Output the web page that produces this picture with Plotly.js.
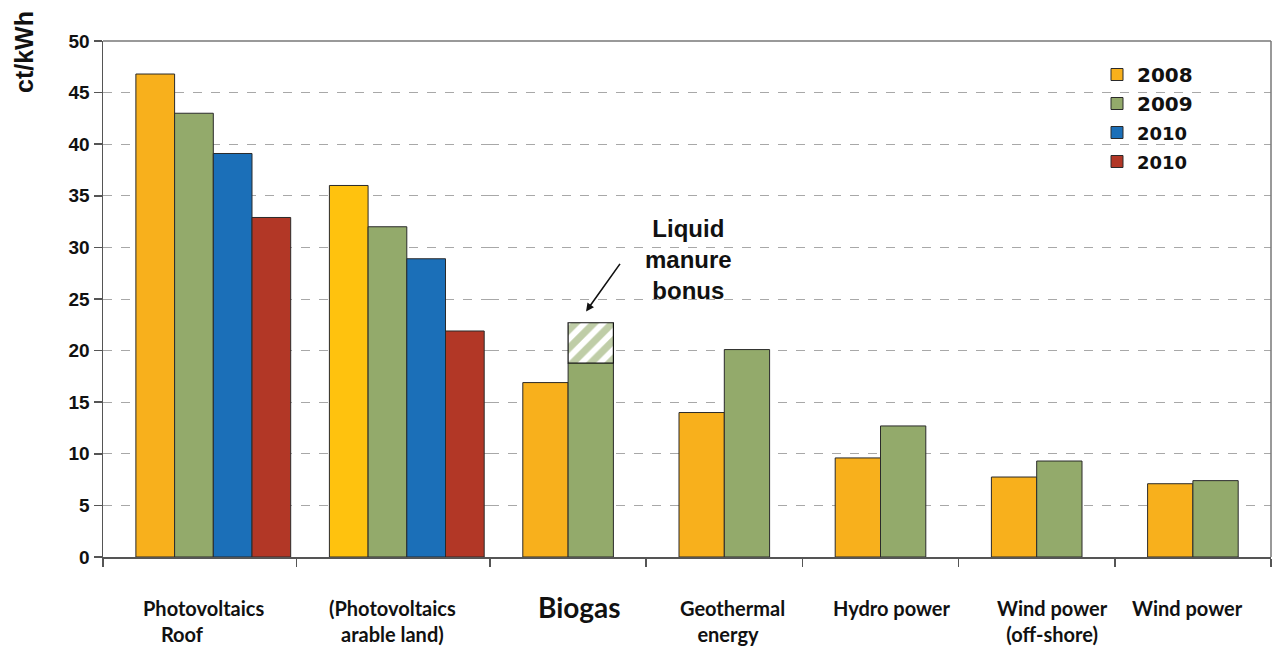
<!DOCTYPE html>
<html>
<head>
<meta charset="utf-8">
<script src="https://cdn.plot.ly/plotly-3.0.1.min.js"></script>
<style>html,body{margin:0;padding:0;background:#fff;}#chart{width:1273px;height:652px;}</style>
</head>
<body>
<div id="chart"></div>
<script>
// ---- data ----
const categoriesPV = ['Photovoltaics Roof', '(Photovoltaics arable land)'];
const categoriesOther = ['Biogas', 'Geothermal energy', 'Hydro power', 'Wind power (off-shore)', 'Wind power'];
const pv2008 = [46.8, 36.0];
const pv2009 = [43.0, 32.0];
const pv2010a = [39.1, 28.9];
const pv2010b = [32.9, 21.9];
const other2008 = [16.9, 14.0, 9.6, 7.75, 7.1];
const other2009 = [18.8, 20.1, 12.7, 9.3, 7.4];
const bonusCategory = ['Biogas'];
const manureBonus = [3.9];
const seriesNames = ['2008', '2009', '2010', '2010'];
const yTicks = [0, 5, 10, 15, 20, 25, 30, 35, 40, 45, 50];
const labelTexts = {
  'Photovoltaics Roof': 'Photovoltaics<br>&nbsp;&nbsp;Roof&nbsp;&nbsp;&nbsp;&nbsp;&nbsp;&nbsp;&nbsp;&nbsp;&nbsp;&nbsp;&nbsp;',
  '(Photovoltaics arable land)': '(Photovoltaics<br>arable land)',
  'Biogas': 'Biogas',
  'Geothermal energy': 'Geothermal<br>energy&nbsp;&nbsp;',
  'Hydro power': 'Hydro power',
  'Wind power (off-shore)': 'Wind power<br>(off-shore)',
  'Wind power': 'Wind power'
};

// ---- styles ----
const C_ORANGE = '#F8B01C', C_YELLOW = '#FFC20E', C_GREEN = '#93AA6B', C_BLUE = '#1B6FB8', C_RED = '#B23726';
const OUTLINE = {color: '#2a2a2a', width: 1};
const W4 = 0.2, W2 = 0.29;

const traces = [
  {type: 'bar', x: categoriesPV, y: pv2008, xaxis: 'x', yaxis: 'y', name: seriesNames[0], legendgroup: 'a',
   offset: -0.33, width: W4, marker: {color: [C_ORANGE, C_YELLOW], line: OUTLINE}},
  {type: 'bar', x: categoriesPV, y: pv2009, xaxis: 'x', yaxis: 'y', name: seriesNames[1], legendgroup: 'b',
   offset: -0.13, width: W4, marker: {color: C_GREEN, line: OUTLINE}},
  {type: 'bar', x: categoriesPV, y: pv2010a, xaxis: 'x', yaxis: 'y', name: '<span style="font-size:18px">' + seriesNames[2] + '</span>', legendgroup: 'c',
   offset: 0.07, width: W4, marker: {color: C_BLUE, line: OUTLINE}},
  {type: 'bar', x: categoriesPV, y: pv2010b, xaxis: 'x', yaxis: 'y', name: '<span style="font-size:18px">' + seriesNames[3] + '</span>', legendgroup: 'd',
   offset: 0.27, width: W4, marker: {color: C_RED, line: OUTLINE}},
  {type: 'bar', x: categoriesOther, y: other2008, xaxis: 'x2', yaxis: 'y', name: seriesNames[0], legendgroup: 'a', showlegend: false,
   offset: -W2, width: W2, marker: {color: C_ORANGE, line: OUTLINE}},
  {type: 'bar', x: categoriesOther, y: other2009, xaxis: 'x2', yaxis: 'y', name: seriesNames[1], legendgroup: 'b', showlegend: false,
   offset: 0, width: W2, marker: {color: C_GREEN, line: OUTLINE}},
  {type: 'bar', x: bonusCategory, y: manureBonus, base: [other2009[0]], xaxis: 'x2', yaxis: 'y', name: 'Liquid manure bonus', showlegend: false,
   offset: 0, width: W2,
   marker: {color: '#ffffff', line: {color: '#111', width: 1.2}, pattern: {shape: '/', fgcolor: '#7F9B50', bgcolor: '#ffffff', size: 13, solidity: 0.55, fillmode: 'overlay'}}}
];

const splitFrac = (490 - 103) / 1168;
const xaxisBase = {
  type: 'category', showline: true, linecolor: '#555', linewidth: 1.5, ticks: 'outside', tickson: 'boundaries',
  ticklen: 8, tickcolor: '#555', tickwidth: 1.5, showticklabels: false, showgrid: false, zeroline: false, anchor: 'y', fixedrange: true
};

const labelShift = {
  'Photovoltaics Roof': 4, '(Photovoltaics arable land)': -1, 'Biogas': 11, 'Geothermal energy': 8,
  'Hydro power': 11, 'Wind power (off-shore)': 16, 'Wind power': -5
};

const annotations = [];
categoriesPV.forEach(c => annotations.push({
  xref: 'x', yref: 'paper', x: c, y: -0.072, yanchor: 'top', xanchor: 'center', showarrow: false,
  xshift: labelShift[c], text: labelTexts[c], align: 'center',
  font: {family: 'Lato', size: 20, color: '#111', weight: 'bold'}
}));
categoriesOther.forEach(c => annotations.push({
  xref: 'x2', yref: 'paper', x: c, y: c === 'Biogas' ? -0.061 : -0.072, yanchor: 'top', xanchor: 'center', showarrow: false,
  xshift: labelShift[c], text: labelTexts[c], align: 'center',
  font: {family: 'Lato', size: c === 'Biogas' ? 28 : 20, color: '#111', weight: 'bold'}
}));
annotations.push({
  xref: 'paper', yref: 'paper', x: (24 - 103) / 1168, y: (557 - 52) / 516, textangle: -90, showarrow: false,
  xanchor: 'center', yanchor: 'middle', text: 'ct/kWh',
  font: {family: 'Liberation Sans', size: 25, color: '#111', weight: 'bold'}
});
annotations.push({
  xref: 'paper', yref: 'paper', x: (688 - 103) / 1168, y: (557 - 259) / 516, showarrow: false,
  xanchor: 'center', yanchor: 'middle', text: 'Liquid<br>manure<br>bonus', align: 'center',
  font: {family: 'Liberation Sans', size: 24, color: '#111', weight: 'bold'}
});
annotations.push({
  xref: 'x2', yref: 'y', x: 0.115, y: 23.8, ax: 35, ay: -49, text: '', showarrow: true,
  arrowhead: 2, arrowsize: 1, arrowwidth: 1.6, arrowcolor: '#111'
});

const layout = {
  width: 1273, height: 652,
  margin: {l: 103, r: 2, t: 41, b: 95},
  paper_bgcolor: '#fff', plot_bgcolor: '#fff',
  barmode: 'overlay',
  showlegend: true,
  legend: {x: (1097 - 103) / 1168, y: (557 - 55) / 516, xanchor: 'left', yanchor: 'top', bgcolor: 'rgba(0,0,0,0)',
           font: {family: 'DejaVu Sans', size: 20, color: '#111', weight: 'bold'}, traceorder: 'normal', tracegroupgap: 9},
  xaxis: Object.assign({}, xaxisBase, {domain: [0, splitFrac], range: [-0.5, 1.5]}),
  xaxis2: Object.assign({}, xaxisBase, {domain: [splitFrac, 1], range: [-0.5, 4.5]}),
  yaxis: {
    range: [0, 50], tickvals: yTicks, ticktext: yTicks.map(String), showline: true, linecolor: '#555', linewidth: 1.5,
    ticks: 'outside', ticklen: 8, tickcolor: '#555', tickwidth: 1.5,
    showgrid: true, gridcolor: '#a8a8a8', griddash: 'dash', gridwidth: 1, zeroline: false, anchor: 'x', fixedrange: true,
    tickfont: {family: 'Liberation Sans', size: 19, color: '#111', weight: 'bold'}
  },
  shapes: [
    {type: 'line', xref: 'paper', yref: 'paper', x0: 0, x1: 1, y0: 1, y1: 1, line: {color: '#777', width: 1.5}},
    {type: 'line', xref: 'paper', yref: 'paper', x0: 1, x1: 1, y0: 0, y1: 1, line: {color: '#777', width: 1.5}}
  ],
  annotations: annotations
};

Plotly.newPlot('chart', traces, layout, {displayModeBar: false, staticPlot: true});
</script>
</body>
</html>
